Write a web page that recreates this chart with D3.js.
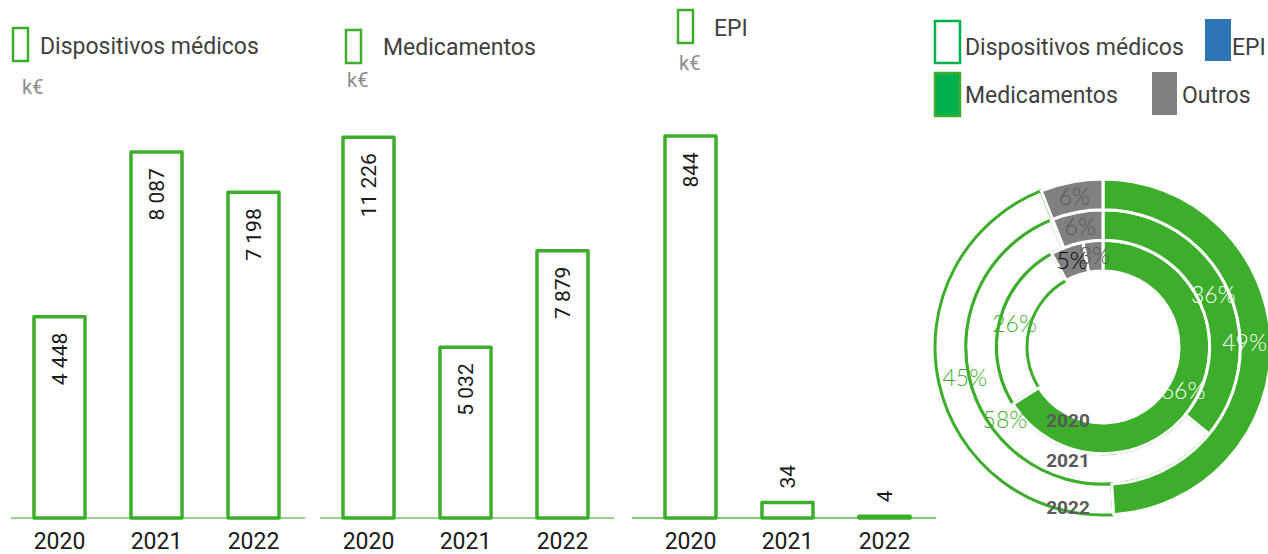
<!DOCTYPE html>
<html>
<head>
<meta charset="utf-8">
<script src="https://cdn.jsdelivr.net/npm/d3@7"></script>
<style>
  body { margin: 0; background: #fff; }
  svg { display: block; font-family: Roboto, "Open Sans", sans-serif; }
</style>
</head>
<body>
<div id="chart-area"></div>
<script>
const years = ["2020", "2021", "2022"];
const dispositivos = [4448, 8087, 7198];
const medicamentos = [11226, 5032, 7879];
const epi = [844, 34, 4];
const axisMax = [8840, 11790, 884];

const categories = ["Medicamentos", "Dispositivos médicos", "EPI", "Outros"];
// shares (%) per year, in the order of categories
const shares2020 = [66, 26, 5, 3];
const shares2021 = [36, 58, 0.2, 6];
const shares2022 = [49, 45, 0.03, 6];

const green = "#3dae2b";
const textDark = "#404040";

const W = 1268, H = 554;
const baseY = 518, topY = 118;

const svg = d3.select("#chart-area").append("svg")
    .attr("width", W).attr("height", H);

const fmt = d3.formatLocale({decimal: ",", thousands: "\u00a0", grouping: [3], currency: ["", "€"]}).format(",d");

const panels = [
    {name: "Dispositivos médicos", values: dispositivos, x0: 11, lx: 12, ly: 27, tx: 40, ty: 54, kx: 22, ky: 94},
    {name: "Medicamentos", values: medicamentos, x0: 320, lx: 345, ly: 29, tx: 383, ty: 55, kx: 347, ky: 87},
    {name: "EPI", values: epi, x0: 642, lx: 677, ly: 9, tx: 714, ty: 36, kx: 679, ky: 70}
];

panels.forEach((p, i) => {
    const g = svg.append("g");

    const x = d3.scaleBand()
        .domain(years)
        .range([p.x0, p.x0 + 291])
        .paddingInner(0.474)
        .paddingOuter(0.237);

    const y = d3.scaleLinear()
        .domain([0, axisMax[i]])
        .range([baseY, topY]);

    // baseline
    g.append("line")
        .attr("x1", p.x0 - (i === 2 ? 10 : 0)).attr("x2", p.x0 + 294)
        .attr("y1", baseY).attr("y2", baseY)
        .attr("stroke", i === 2 ? "#52b83f" : "#79c46b")
        .attr("stroke-width", 1.5);

    const xAxis = d3.axisBottom(x).tickSize(0).tickPadding(15);
    const ax = g.append("g")
        .attr("transform", `translate(0, ${baseY})`)
        .call(xAxis);
    ax.select(".domain").remove();
    ax.selectAll("text")
        .attr("font-size", 23)
        .attr("fill", "#1a1a1a")
        .attr("font-family", "Roboto, sans-serif");

    g.selectAll("rect.bar").data(p.values)
        .enter().append("rect")
        .attr("class", "bar")
        .attr("x", (d, j) => x(years[j]))
        .attr("y", d => y(d))
        .attr("width", x.bandwidth())
        .attr("height", d => y(0) - y(d))
        .attr("fill", "#fff")
        .attr("stroke", green)
        .attr("stroke-width", 3.5)
        .attr("stroke-linejoin", "round");

    g.selectAll("text.val").data(p.values)
        .enter().append("text")
        .attr("class", "val")
        .attr("transform", (d, j) => {
            const cx = x(years[j]) + x.bandwidth() / 2;
            const h = y(0) - y(d);
            const ty = h > 60 ? y(d) + 16 : y(d) - 14;
            return `translate(${cx}, ${ty}) rotate(-90)`;
        })
        .attr("text-anchor", d => (y(0) - y(d) > 60 ? "end" : "start"))
        .attr("dy", "0.35em")
        .attr("font-size", 21)
        .attr("fill", "#1a1a1a")
        .text(d => fmt(d));

    // legend
    g.append("rect")
        .attr("x", p.lx + 1).attr("y", p.ly + 1)
        .attr("width", 15).attr("height", 33)
        .attr("fill", "#fff").attr("stroke", green).attr("stroke-width", 2.5);
    g.append("text")
        .attr("x", p.tx).attr("y", p.ty)
        .attr("font-size", 23).attr("fill", textDark)
        .text(p.name);
    g.append("text")
        .attr("x", p.kx).attr("y", p.ky)
        .attr("font-size", 20).attr("fill", "#8c8c8c")
        .text("k€");
});

// donut
const cx = 1103, cy = 347;
const ringData = [shares2020, shares2021, shares2022];
const r = d3.scaleBand().domain(years).range([76, 168]).paddingInner(0);

const fills = ["#3dae2b", "#fff", "#808080", "#808080"];
const strokes = ["#fff", green, "#fff", "#fff"];
const labelColors = ["#fff", green, "#000", "#595959"];

const pie = d3.pie().sort(null).value(d => d);
const dg = svg.append("g").attr("transform", `translate(${cx}, ${cy})`);
const whiteLayer = dg.append("g");
const fillLayer = dg.append("g");
const labelLayer = dg.append("g");

ringData.forEach((shares, i) => {
    const inner = r(years[i]);
    const outer = inner + r.bandwidth();
    const arcs = pie(shares);
    const arc = d3.arc().innerRadius(inner).outerRadius(outer);
    arcs.forEach((a, k) => {
        if (a.endAngle - a.startAngle < 0.01) return;
        (k === 1 ? whiteLayer : fillLayer).append("path")
            .attr("d", arc(a))
            .attr("fill", fills[k])
            .attr("stroke", strokes[k])
            .attr("stroke-width", 3)
            .attr("stroke-linejoin", "round");
    });
    arcs.forEach((a, k) => {
        if (shares[k] < 1) return;
        const mid = (inner + outer) / 2;
        const lr = i === 2 && k < 2 ? mid - 11 : mid;
        const c = d3.arc().innerRadius(lr).outerRadius(lr).centroid(a);
        labelLayer.append("text")
            .attr("x", c[0]).attr("y", c[1])
            .attr("text-anchor", "middle")
            .attr("dy", "0.35em")
            .attr("font-family", "Lato, sans-serif")
            .attr("font-weight", 300)
            .attr("font-size", 23)
            .attr("fill", labelColors[k])
            .text(Math.round(shares[k]) + "%");
    });
});

const yearOffsets = [73, 113, 160];
years.forEach((yr, i) => {
    labelLayer.append("text")
        .attr("x", -35).attr("y", yearOffsets[i])
        .attr("text-anchor", "middle")
        .attr("dy", "0.35em")
        .attr("font-size", 19)
        .attr("font-weight", 700)
        .attr("fill", "#595959")
        .text(yr);
});

// donut legend
const legendItems = [
    {name: "Dispositivos médicos", fill: "#fff", stroke: "#00b050", x: 935, y: 21, w: 25, h: 42, tx: 965, ty: 55},
    {name: "EPI", fill: "#2e75b6", stroke: "none", x: 1205, y: 19, w: 26, h: 42, tx: 1232, ty: 55},
    {name: "Medicamentos", fill: "#00b050", stroke: green, x: 935, y: 73, w: 25, h: 43, tx: 965, ty: 103},
    {name: "Outros", fill: "#808080", stroke: "none", x: 1152, y: 72, w: 25, h: 43, tx: 1182, ty: 103}
];
const lg = svg.append("g");
legendItems.forEach(d => {
    lg.append("rect")
        .attr("x", d.x).attr("y", d.y)
        .attr("width", d.w).attr("height", d.h)
        .attr("fill", d.fill).attr("stroke", d.stroke).attr("stroke-width", 2.5);
    lg.append("text")
        .attr("x", d.tx).attr("y", d.ty)
        .attr("font-size", 23).attr("fill", textDark)
        .text(d.name);
});
</script>
</body>
</html>
